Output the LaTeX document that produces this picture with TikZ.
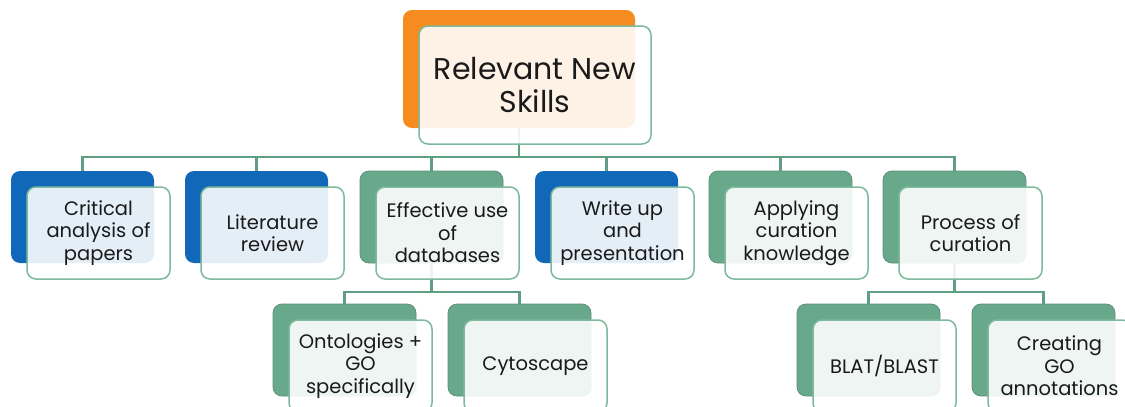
\documentclass[tikz,border=0pt]{standalone}
\usepackage{fontspec}
\setmainfont{Poppins}
\definecolor{cOrange}{HTML}{F68B1F}
\definecolor{cBlue}{HTML}{1168B8}
\definecolor{cGreen}{HTML}{69A98B}
\definecolor{cGreenEdge}{HTML}{5E8F7A}
\definecolor{cFrameEdge}{HTML}{7DB99D}
\definecolor{cLine}{HTML}{5F9E82}
\definecolor{cText}{HTML}{1A1A1A}
\begin{document}
\begin{tikzpicture}[x=1pt,y=-1pt,
  backbox/.style={rectangle, rounded corners=9pt, inner sep=0pt, minimum width=143pt, minimum height=92pt},
  frontbox/.style={rectangle, rounded corners=9pt, inner sep=0pt, minimum width=143pt, minimum height=92pt,
     draw=cFrameEdge, line width=1.5pt, fill=white, fill opacity=0.89, text opacity=1,
     align=center, text=cText, font=\fontsize{19.5}{22.5}\selectfont},
  bluebox/.style={backbox, fill=cBlue},
  greenbox/.style={backbox, fill=cGreen, draw=cGreenEdge, line width=0.8pt},
  link/.style={draw=cLine, line width=2.3pt}]
\useasboundingbox (0,0) rectangle (1125,407);
% back boxes
\node[backbox, fill=cOrange, minimum width=232pt, minimum height=118pt] (top) at (519,69) {};
\node[bluebox]  (b1) at (82.5,217) {};
\node[bluebox]  (b2) at (256.5,217) {};
\node[greenbox] (b3) at (431.5,217) {};
\node[bluebox]  (b4) at (606.5,217) {};
\node[greenbox] (b5) at (780.5,217) {};
\node[greenbox] (b6) at (954.5,217) {};
\node[greenbox] (c1) at (344.5,350) {};
\node[greenbox] (c2) at (519.5,350) {};
\node[greenbox] (d1) at (868.5,350) {};
\node[greenbox] (d2) at (1043.5,350) {};
% connectors
\coordinate (j0) at (519,157);
\coordinate (j3) at (431.5,292);
\coordinate (j6) at (954.5,292);
\draw[link] (top.south) -- (j0);
\draw[link] (b1.north) |- (j0) -| (b6.north);
\foreach \n in {b2,b3,b4,b5} \draw[link] (\n.north) -- (\n.north |- j0);
\draw[link] (b3.south) -- (j3);
\draw[link] (c1.north) |- (j3) -| (c2.north);
\draw[link] (b6.south) -- (j6);
\draw[link] (d1.north) |- (j6) -| (d2.north);
% front boxes
\node[frontbox, minimum width=232pt, minimum height=118pt, font=\fontsize{30}{33}\selectfont] (topf) at (535,85) {Relevant New\\Skills};
\node[frontbox] (f1) at (98.5,233) {Critical\\analysis of\\papers};
\node[frontbox] (f2) at (272.5,233) {Literature\\review};
\node[frontbox] (f3) at (447.5,233) {Effective use\\of\\databases};
\node[frontbox] (f4) at (622.5,233) {Write up\\and\\presentation};
\node[frontbox] (f5) at (796.5,233) {Applying\\curation\\knowledge};
\node[frontbox] (f6) at (970.5,233) {Process of\\curation};
\node[frontbox] (g1) at (360.5,366) {Ontologies +\\GO\\specifically};
\node[frontbox] (g2) at (535.5,366) {Cytoscape};
\node[frontbox] (h1) at (884.5,366) {BLAT/BLAST};
\node[frontbox] (h2) at (1059.5,366) {Creating\\GO\\annotations};
\end{tikzpicture}
\end{document}
